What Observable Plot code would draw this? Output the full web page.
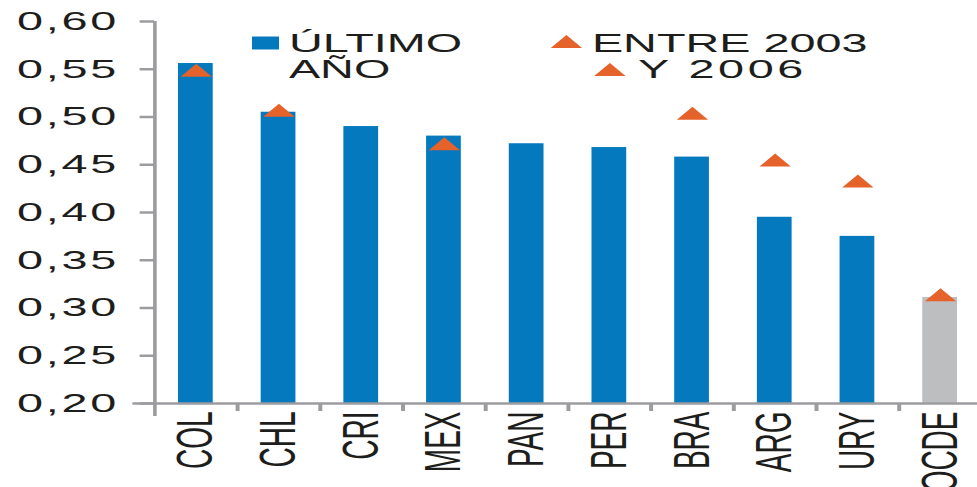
<!DOCTYPE html>
<html><head><meta charset="utf-8">
<script src="https://cdn.jsdelivr.net/npm/d3@7"></script>
<script src="https://cdn.jsdelivr.net/npm/@observablehq/plot@0.6"></script>
<style>html,body{margin:0;padding:0;background:#fff;} #chart svg{display:block;}</style>
</head><body><div id="chart"></div>
<script>
const countries = ["COL","CHL","CRI","MEX","PAN","PER","BRA","ARG","URY","OCDE"];
const latest = [0.556,0.505,0.490,0.480,0.472,0.468,0.458,0.395,0.375,0.311];
const early = [0.549,0.507,null,0.472,null,null,0.504,0.455,0.433,0.314];
const yTicks = [0.20,0.25,0.30,0.35,0.40,0.45,0.50,0.55,0.60];
const legendLatest = "ÚLTIMO\nAÑO";
const legendEarly1 = "ENTRE 2003";
const legendEarly2 = "Y 2006";

const BLUE = "#0479be", ORANGE = "#e5622a", GRAY = "#bdbec0", AXIS = "#9c9ca0", TEXT = "#1d1d1b";
const SX = 1.8, W = 977, H = 487;
const IW = 981 / SX;           // drawing width (slightly wider than the visible window)
const VW = W / SX;             // visible viewBox width
const mL = 154 / SX, mR = 0, mT = 21, mB = 84;
const yMin = yTicks[0], yMax = yTicks[yTicks.length - 1];
const step = (IW - mL - mR) / countries.length;
const pxY = (yMax - yMin) / (H - mT - mB);
const tri = {draw(ctx){ ctx.moveTo(0,-6.5); ctx.lineTo(8.7,6.5); ctx.lineTo(-8.7,6.5); ctx.closePath(); }};
const sq = {draw(ctx){ ctx.rect(-7.5,-6.5,15,13); }};
const fmt = d => d.toFixed(2).replace(".", ",");
const data = countries.map((c,i)=>({country:c, latest: latest[i], early: early[i]}));

const plot = Plot.plot({
  width: IW, height: H, marginLeft: mL, marginRight: mR, marginTop: mT, marginBottom: mB,
  style: {fontFamily: "'Liberation Sans', Arial, sans-serif", color: TEXT, background: "#fff"},
  x: {domain: countries, paddingInner: 0.58, paddingOuter: 0.29, round: false, axis: null},
  y: {domain: [yMin, yMax], axis: null},
  marks: [
    Plot.barY(data, {x: "country", y1: yMin, y2: "latest", fill: d => d.country === "OCDE" ? GRAY : BLUE}),
    Plot.dot(data, {x: "country", y: "early", symbol: tri, r: 5, fill: ORANGE, stroke: "none"}),
    Plot.ruleY([yMin], {stroke: AXIS, strokeWidth: 2.3, insetLeft: -12}),
    Plot.ruleX([countries[0]], {x: d => d, dx: -step/2, y1: yMax, y2: yMin - 13*pxY, stroke: AXIS, strokeWidth: 2}),
    Plot.ruleX(countries.slice(1), {x: d => d, dx: -step/2, y1: yMin, y2: yMin - 8*pxY, stroke: AXIS, strokeWidth: 2.2}),
    Plot.axisY({ticks: yTicks, tickSize: 8, tickPadding: 12, tickFormat: fmt, stroke: AXIS, strokeWidth: 2.5, fontSize: 26, label: null, fill: TEXT}),
    Plot.axisX({tickSize: 0, tickPadding: 8, tickRotate: -90, fontSize: 28, label: null, fill: TEXT}),
    Plot.dot([0], {frameAnchor: "top-left", dx: 147 - mL, dy: 42.5 - mT, symbol: sq, r: 5, fill: BLUE, stroke: "none"}),
    Plot.dot([0], {frameAnchor: "top-left", dx: 565.5/SX - mL, dy: 41 - mT, symbol: tri, r: 5, fill: ORANGE, stroke: "none"}),
    Plot.dot([0], {frameAnchor: "top-left", dx: 609/SX - mL, dy: 69 - mT, symbol: tri, r: 5, fill: ORANGE, stroke: "none"}),
    Plot.text([legendLatest], {text: d => d, frameAnchor: "top-left", textAnchor: "start", lineAnchor: "top", dx: 288/SX - mL, dy: 33 - mT, fontSize: 26, lineHeight: 1.0, fill: TEXT}),
    Plot.text([legendEarly1], {text: d => d, frameAnchor: "top-left", textAnchor: "start", lineAnchor: "top", dx: 591/SX - mL, dy: 33 - mT, fontSize: 26, fill: TEXT}),
    Plot.text([legendEarly2], {text: d => d, frameAnchor: "top-left", textAnchor: "start", lineAnchor: "top", dx: 637/SX - mL, dy: 59.5 - mT, fontSize: 26, fill: TEXT})
  ]
});
d3.select(plot).selectAll('g[aria-label="y-axis tick label"] text').attr("letter-spacing", "1.5px");
d3.select(plot).selectAll("text").filter(function(){ return this.textContent === legendEarly2; }).attr("letter-spacing", "2px");
plot.setAttribute("viewBox", `0 0 ${VW} ${H}`);
plot.setAttribute("width", W);
plot.setAttribute("height", H);
plot.setAttribute("preserveAspectRatio", "none");
plot.style.width = W + "px";
plot.style.height = H + "px";
plot.style.maxWidth = "none";
plot.style.overflow = "hidden";
document.getElementById("chart").appendChild(plot);
</script>
</body></html>
